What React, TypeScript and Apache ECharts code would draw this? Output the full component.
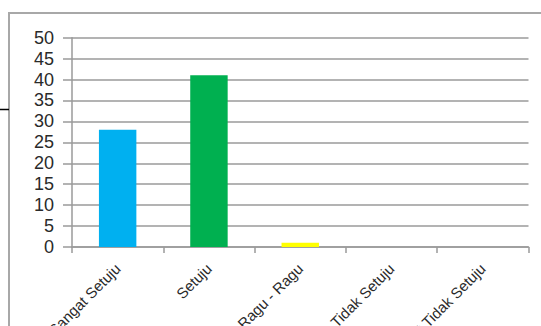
import React, { useEffect, useRef } from "react";
import * as echarts from "echarts";

// Survey answers and their counts
const categories = ["Sangat Setuju", "Setuju", "Ragu - Ragu", "Tidak Setuju", "Sangat Tidak Setuju"];
const counts = [28, 41, 1, 0, 0];
const barColors = ["#00b0f0", "#00b050", "#ffff00", "#c00000", "#7030a0"];

const FONT = "'Liberation Sans', Arial, sans-serif";
const GRID_GRAY = "#9a9a9a";

export default function App() {
  const ref = useRef<HTMLDivElement>(null);

  useEffect(() => {
    if (!ref.current) return;
    const chart = echarts.init(ref.current, undefined, { renderer: "svg" });
    chart.setOption({
      animation: false,
      backgroundColor: "#ffffff",
      textStyle: { fontFamily: FONT },
      grid: {
        left: 72,
        right: 12.5,
        top: 37.7,
        bottom: 79,
        containLabel: false,
        outerBoundsMode: "none",
      },
      graphic: [
        {
          type: "rect",
          shape: { x: 9, y: 13, width: 560, height: 400 },
          style: { fill: "none", stroke: "#a8a8a8", lineWidth: 2 },
          silent: true,
        },
        {
          type: "line",
          shape: { x1: 0, y1: 109.5, x2: 9, y2: 109.5 },
          style: { stroke: "#000000", lineWidth: 1.5 },
          silent: true,
        },
      ],
      xAxis: {
        type: "category",
        data: categories,
        boundaryGap: true,
        axisLine: { show: true, lineStyle: { color: GRID_GRAY, width: 1.5 } },
        axisTick: { show: true, length: 6, lineStyle: { color: GRID_GRAY, width: 1.5 } },
        axisLabel: {
          rotate: 45,
          interval: 0,
          margin: 19,
          fontSize: 15,
          color: "#2a2a2a",
          fontFamily: FONT,
          hideOverlap: false,
        },
        splitLine: { show: false },
      },
      yAxis: {
        type: "value",
        min: 0,
        max: 50,
        interval: 5,
        axisLine: { show: true, lineStyle: { color: GRID_GRAY, width: 1.5 } },
        axisTick: { show: true, length: 9, lineStyle: { color: GRID_GRAY, width: 1.5 } },
        axisLabel: {
          margin: 18,
          fontSize: 18,
          lineHeight: 18,
          color: "#2a2a2a",
          fontFamily: FONT,
          showMinLabel: true,
          showMaxLabel: true,
          hideOverlap: false,
        },
        splitLine: { show: true, lineStyle: { color: GRID_GRAY, width: 1.5 } },
      },
      series: [
        {
          type: "bar",
          barWidth: "41%",
          data: counts.map((v, i) => ({ value: v, itemStyle: { color: barColors[i] } })),
        },
      ],
    });
    return () => chart.dispose();
  }, []);

  return (
    <div
      ref={ref}
      style={{ position: "fixed", left: 0, top: 0, width: 541, height: 326, background: "#fff" }}
    />
  );
}
